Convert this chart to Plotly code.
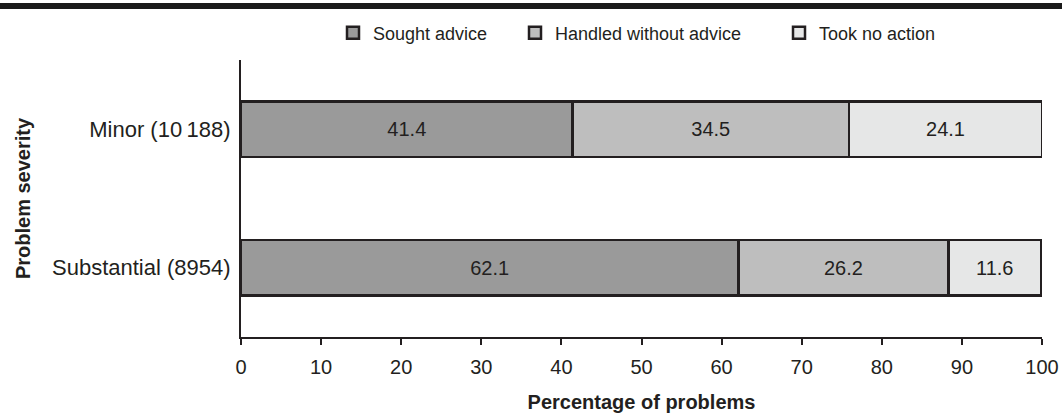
import plotly.graph_objects as go

# Problem severity categories (with number of problems)
categories = ["Minor (10\u2009188)", "Substantial (8954)"]

# Percentage of problems by strategy
sought_advice = [41.4, 62.1]
handled_without_advice = [34.5, 26.2]
took_no_action = [24.1, 11.6]

series_names = ["Sought advice", "Handled without advice", "Took no action"]
series_values = [sought_advice, handled_without_advice, took_no_action]
series_colors = ["#9a9a9a", "#bebebe", "#e6e7e7"]

x_ticks = list(range(0, 101, 10))

W, H = 1062, 414
M_L, M_R, M_T, M_B = 241, 20, 60, 77
PW, PH = W - M_L - M_R, H - M_T - M_B

FONT = "Liberation Sans, Arial, sans-serif"
INK = "#231f20"

# one legend box per series so each entry sits at its own position
legend_ids = ["legend", "legend2", "legend3"]
legend_left_px = [333, 515, 779]

fig = go.Figure()
for name, vals, col, lid in zip(series_names, series_values, series_colors, legend_ids):
    fig.add_trace(go.Bar(
        name=name,
        y=categories,
        x=vals,
        orientation="h",
        width=0.4,
        marker=dict(color=col, line=dict(color=INK, width=2.5)),
        text=vals,
        texttemplate="%{x:.1f}",
        textposition="inside",
        insidetextanchor="middle",
        textfont=dict(family=FONT, size=20, color=INK),
        constraintext="none",
        hoverinfo="x+name",
        legend=lid,
    ))

legend_common = dict(
    orientation="h",
    xanchor="left",
    y=1 + (M_T - 33) / PH, yanchor="middle",
    font=dict(family=FONT, size=18, color=INK),
    bgcolor="rgba(0,0,0,0)",
    borderwidth=0,
)
legends = {
    lid: dict(legend_common, x=(px - M_L) / PW)
    for lid, px in zip(legend_ids, legend_left_px)
}

fig.update_layout(
    width=W, height=H,
    barmode="stack",
    plot_bgcolor="white",
    paper_bgcolor="white",
    margin=dict(l=M_L, r=M_R, t=M_T, b=M_B, pad=0),
    font=dict(family=FONT, size=20, color=INK),
    showlegend=True,
    xaxis=dict(
        range=[0, 100],
        tickvals=x_ticks,
        ticktext=[str(t) for t in x_ticks],
        ticks="outside", ticklen=6, tickwidth=2, tickcolor=INK,
        showline=True, linewidth=2, linecolor=INK,
        showgrid=False, zeroline=False,
        tickfont=dict(size=20),
        ticklabelstandoff=5,
        automargin=False,
        title=dict(text="<b>Percentage of problems</b>", font=dict(size=20), standoff=18),
    ),
    yaxis=dict(
        range=[1.5, -0.5],
        showline=True, linewidth=2, linecolor=INK,
        ticks="", showgrid=False, zeroline=False,
        ticklabelstandoff=4,
        tickfont=dict(size=22),
        automargin=False,
        title=dict(text="<b>Problem severity</b>", font=dict(size=20), standoff=16),
    ),
    shapes=[dict(
        type="rect", xref="paper", yref="paper",
        x0=-M_L / PW, x1=(W - M_L) / PW,
        y0=1 + (M_T - 9) / PH, y1=1 + (M_T - 3) / PH,
        fillcolor="#1a1a1a", line=dict(width=0),
    )],
    **legends,
)

fig.write_html("out.html")
